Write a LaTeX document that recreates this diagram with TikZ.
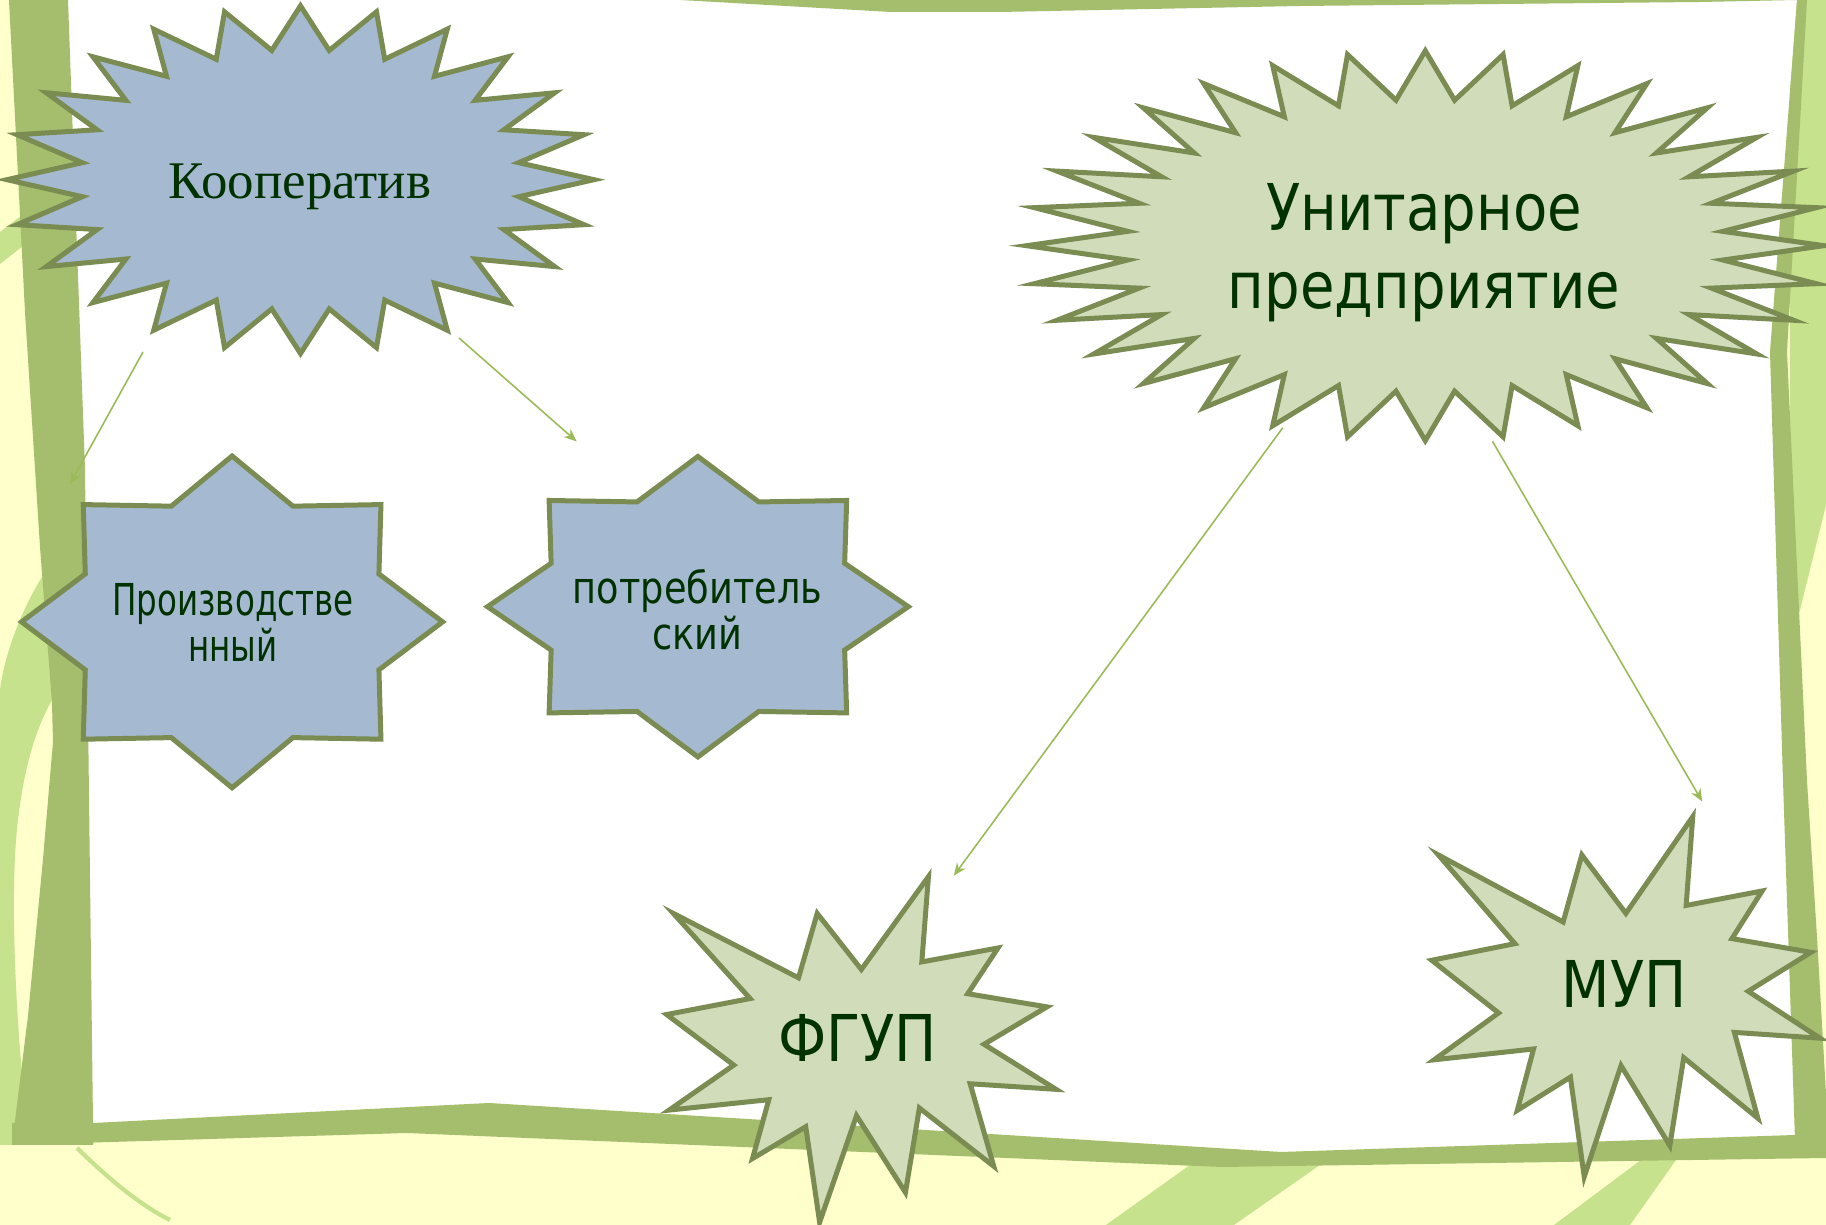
\documentclass[tikz,border=0pt]{standalone}
\usepackage{fontspec}
\setmainfont{Liberation Serif}
\newfontfamily\headsans[FakeStretch=0.87]{DejaVu Sans}
\newfontfamily\prodsans[FakeStretch=0.74]{DejaVu Sans}
\newfontfamily\potrsans[FakeStretch=0.835]{DejaVu Sans}
\usetikzlibrary{arrows.meta}
\definecolor{paper}{RGB}{255,255,204}
\definecolor{streak}{RGB}{198,226,140}
\definecolor{framegreen}{RGB}{165,190,110}
\definecolor{edge}{RGB}{122,140,82}
\definecolor{coopfill}{RGB}{165,185,208}
\definecolor{unitfill}{RGB}{209,220,187}
\definecolor{ink}{RGB}{0,50,0}
\definecolor{wire}{RGB}{155,187,89}
\tikzstyle{seal} = [draw=edge, line width=1.42pt]
\tikzstyle{coopseal} = [seal, fill=coopfill]
\tikzstyle{unitseal} = [seal, fill=unitfill]
\tikzstyle{caption} = [text=ink, inner sep=0pt, align=center]
\tikzstyle{bigtext} = [font=\headsans\fontsize{18.35}{22.2}\selectfont]
\tikzstyle{link} = [-{Stealth[length=3.6pt, width=3pt]}, draw=wire, line width=0.45pt]
% regular star: style, points, inner ratio, centre x, centre y, radius x, radius y
\newcommand*{\starburst}[7]{%
    \pgfmathtruncatemacro\lastk{2*#2-1}
    \draw[#1] plot[variable=\k, samples at={0,...,\lastk}]
        ({#4+#6*(1-(1-#3)*mod(\k,2))*cos(90+180*\k/#2)},
         {#5-#7*(1-(1-#3)*mod(\k,2))*sin(90+180*\k/#2)}) -- cycle;}
% explosion: style, left, top, width, height (points in 1/216 of the box)
\newcommand*{\bang}[5]{%
    \draw[#1] ({#2+0.5*#4},{#3+58/216*#5})
        \foreach \u/\v in {145.22/0, 141.55/53.25, 183.80/44.57, 167.02/73.15,
            210.97/81.37, 176.07/104.75, 216/132.90, 168.37/129.42, 181.45/180.95,
            140.20/144.57, 132.47/197.37, 105.32/149.35, 84.85/216, 77.15/156.27,
            47.62/176.17, 56.67/139.37, 1.35/145.87, 37.22/117.75, 0/86.15, 46.27/76.17,
            3.70/22.95, 73.12/63.20, 83.52/22.95}
        { -- ({#2+\u/216*#4},{#3+\v/216*#5}) } -- cycle;}

\begin{document}
\begin{tikzpicture}[x=0.01cm, y=-0.01cm]
    \useasboundingbox (0,0) rectangle (1826,1225);

    % Background.
    \fill[paper] (0,0) rectangle (1826,1225);
    \fill[streak] (0,232) -- (26,212) -- (28,242) -- (0,264) -- cycle;
    \fill[streak] (53,560) .. controls (25,600) and (5,650) .. (0,690) -- (0,1145) -- (30,1145)
        .. controls (18,1060) and (8,900) .. (18,820) .. controls (25,760) and (38,725) .. (52,700) -- cycle;
    \draw[streak, line width=1.2pt] (77,1148) .. controls (110,1180) and (140,1205) .. (170,1220);
    \fill[streak] (1106,1225) -- (1234,1225) -- (1327,1160) -- (1197,1160) -- cycle;
    \fill[streak] (1554,1225) -- (1630,1225) -- (1676,1160) -- (1641,1160) -- cycle;
    \fill[streak] (1790,0) -- (1826,0) -- (1826,505) -- (1790,650) -- cycle;
    \fill[white] (68,0) -- (1797,0) -- (1770,352) -- (1783,781) -- (1795,1135) -- (1281,1152)
        -- (489,1103) -- (93,1123) -- cycle;
    \fill[framegreen] (9,0) -- (68,0) -- (85,469) -- (93,1123) -- (93,1145) -- (12,1145) -- (28,1016)
        -- (43,859) -- (53,742) -- (52,703) -- (40,547) -- (25,312) -- cycle;
    \fill[framegreen] (12,1123) -- (93,1123) -- (489,1103) -- (1281,1152) -- (1795,1135) -- (1826,1133)
        -- (1826,1158) -- (1222,1167) -- (407,1133) -- (12,1145) -- cycle;
    \fill[framegreen] (1797,0) -- (1807,0) -- (1787,352) -- (1807,781) -- (1817,937) -- (1826,1094)
        -- (1826,1140) -- (1795,1140) -- (1783,781) -- (1770,352) -- cycle;
    \fill[framegreen] (680,0) -- (891,12) -- (1000,12) -- (1300,6) -- (1700,2) -- (1797,0) -- cycle;

    % Shapes.
    \starburst{coopseal}{24}{0.75}{300.5}{179.7}{293.5}{173.8}
    \starburst{coopseal}{8}{0.755}{232.1}{621.9}{210.5}{165.9}
    \starburst{coopseal}{8}{0.755}{697.9}{606.7}{210.4}{150.2}
    \starburst{unitseal}{32}{0.75}{1425.3}{245.7}{398.7}{194.9}
    \bang{unitseal}{666.7}{876.7}{389.3}{345.6}
    \bang{unitseal}{1431.7}{816.7}{388.3}{360}

    \node (koop) [caption, anchor=base, font=\fontsize{15.05}{18}\selectfont] at (300,199) {Кооператив};
    \node (prod) [caption, font=\prodsans\fontsize{12.5}{11.95}\selectfont] at (233,622.5) {Производстве\\нный};
    \node (potr) [caption, font=\potrsans\fontsize{12.5}{11.95}\selectfont] at (697.5,610) {потребитель\\ский};
    \node (unit) [caption, bigtext] at (1424,252.8) {Унитарное\\предприятие};
    \node (fgup) [caption, bigtext, anchor=base] at (857.5,1062) {ФГУП};
    \node (mup) [caption, bigtext, anchor=base] at (1624,1008) {МУП};

    \coordinate (koop sw) at (143,352);
    \coordinate (prod top) at (70,484);
    \coordinate (koop se) at (459,338);
    \coordinate (potr top) at (576.6,441.4);
    \coordinate (unit sw) at (1282.8,427.7);
    \coordinate (fgup top) at (953.8,875.7);
    \coordinate (unit se) at (1492.5,441.4);
    \coordinate (mup top) at (1702.2,801.5);

    % Arrows.
    \draw [link] (koop sw) -- (prod top);
    \draw [link] (koop se) -- (potr top);
    \draw [link] (unit sw) -- (fgup top);
    \draw [link] (unit se) -- (mup top);
\end{tikzpicture}
\end{document}
